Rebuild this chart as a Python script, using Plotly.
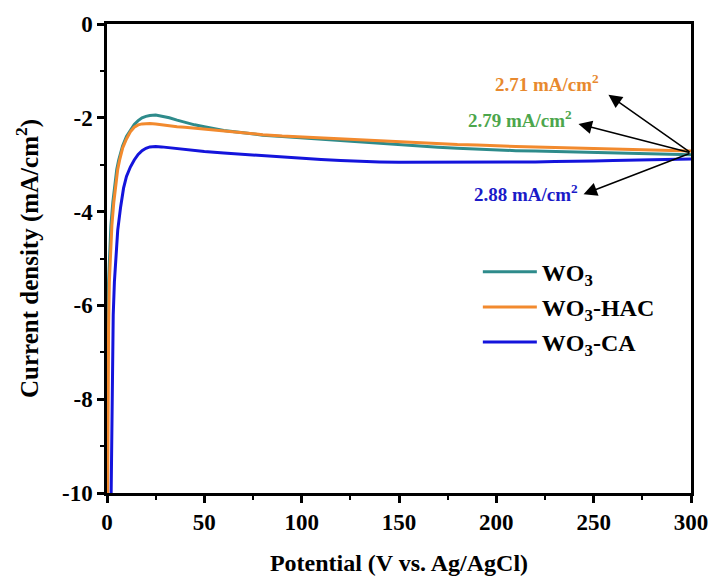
import plotly.graph_objects as go

# ---- data ----
wo3_x = [0, 0.2, 0.4, 0.8, 1.3, 2, 3, 4, 5, 6, 8, 10, 12, 14, 16, 18, 20, 22, 25, 28, 32, 36, 40, 45, 50,
         60, 70, 80, 90, 100, 110, 120, 130, 140, 150, 160, 170, 180, 190, 200, 210, 220, 230, 240, 250,
         260, 270, 280, 290, 300]
wo3_y = [-10.5, -8, -6.5, -5.5, -4.8, -4.3, -3.8, -3.4, -3.1, -2.9, -2.6, -2.4, -2.26, -2.14, -2.06, -2.0,
         -1.97, -1.95, -1.94, -1.96, -2.0, -2.05, -2.1, -2.15, -2.19, -2.27, -2.32, -2.37, -2.40, -2.43,
         -2.46, -2.49, -2.52, -2.55, -2.58, -2.61, -2.63, -2.65, -2.67, -2.68, -2.70, -2.71, -2.72, -2.73,
         -2.75, -2.76, -2.77, -2.78, -2.78, -2.79]

hac_x = [0.3, 0.5, 0.8, 1.2, 1.8, 2.5, 3.5, 4.5, 5.5, 6.5, 8, 10, 12, 14, 16, 18, 20, 22, 25, 28, 32, 36, 40,
         45, 50, 60, 70, 80, 90, 100, 110, 120, 130, 140, 150, 160, 170, 180, 190, 200, 210, 220, 230, 240,
         250, 260, 270, 280, 290, 300]
hac_y = [-10.5, -8, -6.5, -5.5, -4.8, -4.3, -3.8, -3.4, -3.1, -2.9, -2.65, -2.45, -2.3, -2.2, -2.15, -2.13,
         -2.12, -2.12, -2.13, -2.15, -2.17, -2.19, -2.2, -2.22, -2.24, -2.29, -2.33, -2.36, -2.39, -2.41,
         -2.44, -2.46, -2.48, -2.5, -2.52, -2.54, -2.56, -2.57, -2.58, -2.6, -2.61, -2.62, -2.63, -2.65,
         -2.66, -2.67, -2.68, -2.69, -2.7, -2.71]

ca_x = [2, 2.4, 2.8, 3.2, 3.8, 4.5, 5.5, 7, 8.5, 10, 12, 14, 16, 18, 20, 22, 25, 28, 32, 36, 40, 45, 50,
        60, 70, 80, 90, 100, 110, 120, 130, 140, 150, 160, 170, 180, 190, 200, 210, 220, 230, 240, 250,
        260, 270, 280, 290, 300]
ca_y = [-10.5, -9, -7.5, -6.2, -5.5, -5.0, -4.4, -3.9, -3.5, -3.25, -3.05, -2.9, -2.78, -2.7, -2.65, -2.62,
        -2.61, -2.62, -2.64, -2.66, -2.68, -2.70, -2.72, -2.75, -2.78, -2.81, -2.84, -2.87, -2.89, -2.91,
        -2.93, -2.94, -2.95, -2.95, -2.95, -2.95, -2.95, -2.95, -2.94, -2.94, -2.93, -2.93, -2.92, -2.91,
        -2.9, -2.89, -2.88, -2.88]

series_names = ["WO<sub>3</sub>", "WO<sub>3</sub>-HAC", "WO<sub>3</sub>-CA"]
series_colors = ["#2E8B8B", "#F28A2E", "#1414DC"]

x_ticks = [0, 50, 100, 150, 200, 250, 300]
x_ticktext = ["0", "50", "100", "150", "200", "250", "300"]
y_ticks = [0, -2, -4, -6, -8, -10]
y_ticktext = ["0", "-2", "-4", "-6", "-8", "-10"]

labels = ["2.71 mA/cm<sup>2</sup>", "2.79 mA/cm<sup>2</sup>", "2.88 mA/cm<sup>2</sup>"]
label_colors = ["#E8892E", "#4CA64C", "#1A1AC8"]
label_pos = [(226, -1.26), (212, -2.02), (215, -3.6)]
arrow_heads = [(257.6, -1.51), (242.2, -2.13), (244.8, -3.63)]
arrow_tail = (300, -2.75)

FONT = "Liberation Serif, Times New Roman, serif"

fig = go.Figure()
for xs, ys, name, col, g in zip([wo3_x, hac_x, ca_x], [wo3_y, hac_y, ca_y], series_names, series_colors, "abc"):
    fig.add_trace(go.Scatter(x=xs, y=ys, mode="lines", name=name, legendgroup=g,
                             line=dict(color=col, width=3)))

for (tx, ty), txt, col in zip(label_pos, labels, label_colors):
    fig.add_annotation(x=tx, y=ty, text=txt, showarrow=False, xref="x", yref="y",
                       font=dict(family=FONT, size=19, color=col, weight="bold"))
for hx, hy in arrow_heads:
    fig.add_annotation(x=hx, y=hy, ax=arrow_tail[0], ay=arrow_tail[1], xref="x", yref="y",
                       axref="x", ayref="y", text="", showarrow=True, arrowhead=2,
                       arrowsize=1.8, arrowwidth=1.5, arrowcolor="black")

axis_common = dict(showline=True, linecolor="black", linewidth=2.5, mirror=True, ticks="outside",
                   ticklen=7, tickwidth=2.5, tickcolor="black", showgrid=False, zeroline=False,
                   tickfont=dict(family=FONT, size=23, color="black", weight="bold"))

fig.update_xaxes(range=[0, 300], tickmode="array", tickvals=x_ticks, ticktext=x_ticktext,
                 minor=dict(dtick=25, tick0=0, ticks="outside", ticklen=4, tickwidth=2, tickcolor="black"),
                 title=dict(text="<b>Potential (V vs. Ag/AgCl)</b>", standoff=20,
                            font=dict(family=FONT, size=24, color="black")),
                 **axis_common)
fig.update_yaxes(range=[-10, 0], tickmode="array", tickvals=y_ticks, ticktext=y_ticktext,
                 minor=dict(dtick=1, tick0=0, ticks="outside", ticklen=4, tickwidth=2, tickcolor="black"),
                 title=dict(text="<b>Current density (mA/cm<sup>2</sup>)</b>", standoff=17,
                            font=dict(family=FONT, size=25, color="black")),
                 **axis_common)

fig.update_layout(
    width=715, height=579,
    margin=dict(l=107, r=24, t=24, b=86, autoexpand=False),
    plot_bgcolor="white", paper_bgcolor="white",
    legend=dict(x=0.635, y=0.519, xanchor="left", yanchor="top", bgcolor="rgba(0,0,0,0)",
                itemwidth=54, tracegroupgap=1,
                font=dict(family=FONT, size=24, color="black", weight="bold")),
)

fig.write_html("out.html")
